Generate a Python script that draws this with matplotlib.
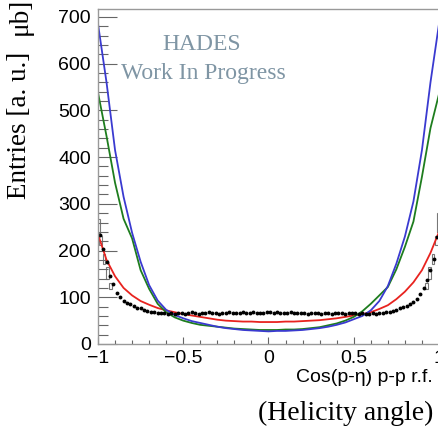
import numpy as np
import matplotlib
matplotlib.use("Agg")
import matplotlib.pyplot as plt
from matplotlib.ticker import MultipleLocator

# dados (cos do angulo de helicidade)
x_curve = [-1.00, -0.95, -0.90, -0.85, -0.80, -0.75, -0.70, -0.65, -0.60, -0.55,
           -0.50, -0.45, -0.40, -0.35, -0.30, -0.25, -0.20, -0.15, -0.10, -0.05,
           0.00, 0.05, 0.10, 0.15, 0.20, 0.25, 0.30, 0.35, 0.40, 0.45,
           0.50, 0.55, 0.60, 0.65, 0.70, 0.75, 0.80, 0.85, 0.90, 0.95, 1.00]

blue_vals = [685, 560, 415, 315, 238, 176, 126, 93, 73, 62,
             55, 49, 45, 41, 37, 34, 32, 30, 29, 28,
             27, 28, 28, 29, 30, 32, 34, 37, 41, 46,
             53, 60, 72, 92, 124, 172, 230, 305, 415, 560, 685]

green_vals = [538, 445, 345, 268, 226, 158, 118, 86, 68, 57,
              50, 45, 41, 39, 37, 35, 33, 32, 31, 30,
              30, 30, 31, 31, 32, 34, 36, 40, 44, 50,
              58, 70, 86, 104, 122, 160, 208, 262, 358, 462, 535]

red_vals = [235, 180, 145, 120, 104, 92, 84, 77, 72, 68,
            64, 61, 58, 55, 52, 50, 49, 48, 48, 47,
            47, 47, 48, 48, 49, 50, 51, 53, 55, 58,
            61, 64, 68, 75, 83, 96, 112, 132, 158, 195, 240]

# histograma de dados (pontos pretos), bins de 0.02
x_data = [-0.99, -0.97, -0.95, -0.93, -0.91, -0.89, -0.87, -0.85, -0.83, -0.81,
          -0.79, -0.77, -0.75, -0.73, -0.71, -0.69, -0.67, -0.65, -0.63, -0.61,
          -0.59, -0.57, -0.55, -0.53, -0.51, -0.49, -0.47, -0.45, -0.43, -0.41,
          -0.39, -0.37, -0.35, -0.33, -0.31, -0.29, -0.27, -0.25, -0.23, -0.21,
          -0.19, -0.17, -0.15, -0.13, -0.11, -0.09, -0.07, -0.05, -0.03, -0.01,
          0.01, 0.03, 0.05, 0.07, 0.09, 0.11, 0.13, 0.15, 0.17, 0.19,
          0.21, 0.23, 0.25, 0.27, 0.29, 0.31, 0.33, 0.35, 0.37, 0.39,
          0.41, 0.43, 0.45, 0.47, 0.49, 0.51, 0.53, 0.55, 0.57, 0.59,
          0.61, 0.63, 0.65, 0.67, 0.69, 0.71, 0.73, 0.75, 0.77, 0.79,
          0.81, 0.83, 0.85, 0.87, 0.89, 0.91, 0.93, 0.95, 0.97, 0.99]
y_data = [233, 204, 175, 145, 128, 110, 100, 91, 88, 85,
          81, 78, 76, 73, 70, 68, 68, 67, 66, 67,
          65, 66, 64, 66, 67, 65, 66, 68, 66, 65,
          67, 66, 68, 66, 67, 65, 66, 67, 68, 66,
          67, 66, 68, 67, 66, 68, 67, 66, 67, 68,
          69, 67, 68, 67, 66, 67, 68, 66, 67, 66,
          67, 65, 66, 67, 66, 65, 66, 67, 65, 66,
          67, 66, 65, 66, 67, 66, 65, 66, 64, 65,
          66, 65, 66, 67, 68, 69, 71, 73, 76, 79,
          82, 86, 90, 96, 106, 120, 137, 158, 182, 228]

# caixas abertas (outro histograma) perto das bordas
box_x = [-0.995, -0.985, -0.965, -0.945, -0.925, 0.925, 0.945, 0.965, 0.985, 0.995]
box_lo = [238, 212, 172, 140, 118, 118, 140, 172, 212, 240]
box_hi = [268, 232, 192, 165, 130, 130, 165, 192, 232, 280]

W, H = 439, 428
fig = plt.figure(figsize=(W / 100, H / 100), dpi=100)
ax = fig.add_axes([98 / W, 1 - 344 / H, 341 / W, 335 / H])

ax.plot(x_curve, red_vals, color="#e8231f", lw=1.3)
ax.plot(x_curve, green_vals, color="#1e7d1e", lw=1.3)
ax.plot(x_curve, blue_vals, color="#3a3ad0", lw=1.3)

box_h = [h - l for h, l in zip(box_hi, box_lo)]
ax.bar(box_x, box_h, bottom=box_lo, width=0.016, fill=False,
       edgecolor="#777777", linewidth=0.8)
ax.plot(x_data, y_data, "o", color="black", ms=2.8, mew=0)

ax.set_xlim(-1, 1)
ax.set_ylim(0, 717)

ax.xaxis.set_major_locator(MultipleLocator(0.5))
ax.xaxis.set_minor_locator(MultipleLocator(0.1))
ax.yaxis.set_major_locator(MultipleLocator(100))
ax.yaxis.set_minor_locator(MultipleLocator(20))
ax.set_xticks([-1, -0.5, 0, 0.5, 1])
ax.set_xticklabels(["\u22121", "\u22120.5", "0", "0.5", "1"])

ax.tick_params(axis="y", which="major", direction="in", length=13.5, width=0.8,
               color="#666666", labelsize=14, pad=5)
ax.tick_params(axis="y", which="minor", direction="in", length=7, width=0.8,
               color="#666666")
ax.tick_params(axis="x", which="major", direction="in", length=5, width=0.8,
               color="#666666", labelsize=14, pad=4)
ax.tick_params(axis="x", which="minor", direction="in", length=3, width=0.8,
               color="#666666")
for lab in ax.get_xticklabels() + ax.get_yticklabels():
    lab.set_fontfamily("Liberation Sans")

for s in ["left", "bottom", "top"]:
    ax.spines[s].set_color("#999999")
    ax.spines[s].set_linewidth(1.0)
ax.spines["right"].set_visible(False)

serif = "Liberation Serif"
fig.text(202 / W, 1 - 44 / H, "HADES", family=serif, fontsize=17,
         color="#7f95a4", ha="center", va="center")
fig.text(203 / W, 1 - 73 / H, "Work In Progress", family=serif, fontsize=17,
         color="#7f95a4", ha="center", va="center")

fig.text(20 / W, 1 - 125 / H, "Entries [a. u.]", family=serif, fontsize=19.5,
         rotation=90, ha="center", va="center")
fig.text(20 / W, 1 - 16 / H, "\u03bcb]", family=serif, fontsize=19.5,
         rotation=90, ha="center", va="center")

fig.text(433 / W, 1 - 378 / H, "Cos(p-\u03b7) p-p r.f.", family="Liberation Sans",
         fontsize=14, ha="right", va="center")
fig.text(433 / W, 1 - 413 / H, "(Helicity angle)", family=serif, fontsize=20,
         ha="right", va="center")

fig.savefig("out.png", dpi=100)
